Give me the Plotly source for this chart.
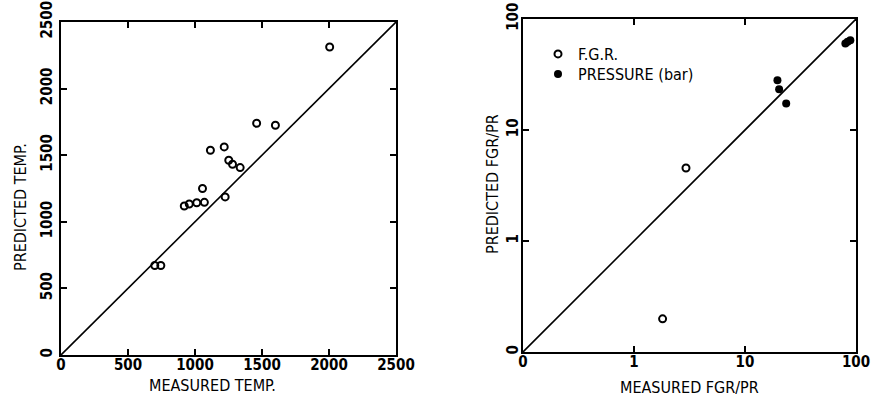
import plotly.graph_objects as go

# ---- data: left panel (temperature) ----
measured_temp = [700, 745, 920, 957, 1013, 1070, 1056, 1115, 1218, 1225, 1252, 1280, 1337, 1460, 1600, 2005]
predicted_temp = [672, 672, 1119, 1134, 1143, 1146, 1250, 1537, 1562, 1187, 1462, 1432, 1407, 1740, 1725, 2312]
temp_diag = [0, 2500]
temp_ticks = [0, 500, 1000, 1500, 2000, 2500]
temp_ticktext = ["0", "500", "1000", "1500", "2000", "2500"]

# ---- data: right panel (FGR / pressure, log) ----
fgr_measured = [2.94, 1.81]
fgr_predicted = [4.55, 0.199]
pr_measured = [19.6, 20.3, 23.5, 80.2, 84.1, 88.9]
pr_predicted = [28.1, 23.3, 17.3, 60.2, 62.4, 64.5]
log_diag = [0.1, 100]
log_ticks = [0.1, 1, 10, 100]
log_ticktext = ["0", "1", "10", "100"]

FONT = "DejaVu Sans Condensed, DejaVu Sans, sans-serif"
W, H = 874, 402

fig = go.Figure()

fig.add_trace(go.Scatter(x=temp_diag, y=temp_diag, mode="lines",
                         line=dict(color="black", width=1.6),
                         xaxis="x", yaxis="y", showlegend=False, hoverinfo="skip"))
fig.add_trace(go.Scatter(x=measured_temp, y=predicted_temp, mode="markers",
                         marker=dict(symbol="circle-open", size=7, color="black",
                                     line=dict(width=2, color="black")),
                         xaxis="x", yaxis="y", showlegend=False))

fig.add_trace(go.Scatter(x=log_diag, y=log_diag, mode="lines",
                         line=dict(color="black", width=1.6),
                         xaxis="x2", yaxis="y2", showlegend=False, hoverinfo="skip"))
fig.add_trace(go.Scatter(x=fgr_measured, y=fgr_predicted, mode="markers", name="F.G.R.",
                         marker=dict(symbol="circle-open", size=7, color="black",
                                     line=dict(width=2, color="black")),
                         xaxis="x2", yaxis="y2", legend="legend"))
fig.add_trace(go.Scatter(x=pr_measured, y=pr_predicted, mode="markers", name="PRESSURE (bar)",
                         marker=dict(symbol="circle", size=8, color="black"),
                         xaxis="x2", yaxis="y2", legend="legend2"))

def px_x(p):
    return p / W

def px_y(p):
    return 1 - p / H

axis_common = dict(showline=True, linecolor="black", linewidth=1.6, mirror="allticks",
                   ticks="inside", ticklen=6, tickwidth=1.6, tickcolor="black",
                   showgrid=False, zeroline=False, automargin=False,
                   tickfont=dict(family=FONT, size=15, color="black", weight="bold"))

legend_common = dict(xanchor="left", yanchor="top", bgcolor="rgba(0,0,0,0)",
                     borderwidth=0, itemwidth=30,
                     font=dict(family=FONT, size=16, color="black"))

fig.update_layout(
    width=W, height=H,
    margin=dict(l=0, r=0, t=0, b=0),
    paper_bgcolor="white", plot_bgcolor="white",
    xaxis=dict(domain=[px_x(61), px_x(396)], range=[0, 2500], ticklabelstandoff=-5,
               tickvals=temp_ticks, ticktext=temp_ticktext, anchor="y", **axis_common),
    yaxis=dict(domain=[px_y(355), px_y(22)], range=[0, 2500], ticklabelstandoff=1,
               tickvals=temp_ticks, ticktext=temp_ticktext, tickangle=-90, anchor="x",
               **axis_common),
    xaxis2=dict(domain=[px_x(523), px_x(856)], type="log", range=[-1, 2], ticklabelstandoff=-5,
                tickvals=log_ticks, ticktext=log_ticktext, anchor="y2", **axis_common),
    yaxis2=dict(domain=[px_y(352), px_y(19)], type="log", range=[-1, 2], ticklabelstandoff=-3,
                tickvals=log_ticks, ticktext=log_ticktext, tickangle=-90, anchor="x2",
                **axis_common),
    legend=dict(x=px_x(538), y=px_y(37), **legend_common),
    legend2=dict(x=px_x(538), y=px_y(57), **legend_common),
    showlegend=True,
    hovermode=False,
)

title_font = dict(family=FONT, size=16, color="black")
annotations = [
    dict(text="PREDICTED TEMP.", x=px_x(20), y=px_y(207), textangle=-90),
    dict(text="MEASURED TEMP.", x=px_x(212), y=px_y(385), textangle=0),
    dict(text="PREDICTED FGR/PR", x=px_x(492), y=px_y(184), textangle=-90),
    dict(text="MEASURED FGR/PR", x=px_x(689), y=px_y(387), textangle=0),
]
for a in annotations:
    fig.add_annotation(xref="paper", yref="paper", showarrow=False,
                       xanchor="center", yanchor="middle", font=title_font, **a)

fig.write_html("out.html", config={"displayModeBar": False},
               post_script="document.body.style.margin='0';")
